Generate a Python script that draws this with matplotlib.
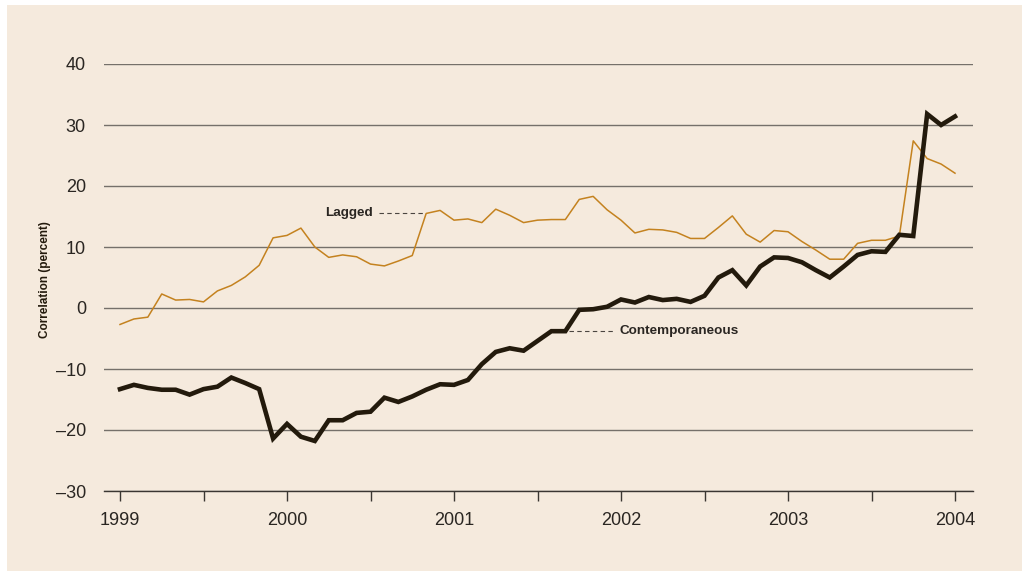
import numpy as np
import matplotlib

matplotlib.use("Agg")
import matplotlib.pyplot as plt
from matplotlib.patches import Rectangle

# monthly observations, Jan 1999 .. Jan 2004
contemporaneous = [
    -13.3, -12.6, -13.1, -13.4, -13.4, -14.2, -13.3, -12.9, -11.4, -12.3, -13.3, -21.4,
    -19.0, -21.1, -21.8, -18.4, -18.4, -17.2, -17.0, -14.7, -15.4, -14.5, -13.4, -12.5,
    -12.6, -11.8, -9.2, -7.2, -6.6, -7.0, -5.4, -3.8, -3.8, -0.3, -0.2, 0.2,
    1.4, 0.9, 1.8, 1.3, 1.5, 1.0, 2.0, 5.0, 6.2, 3.7, 6.8, 8.3,
    8.2, 7.5, 6.2, 5.0, 6.8, 8.7, 9.3, 9.2, 12.0, 11.8, 31.8, 30.0,
    31.4,
]
lagged = [
    -2.7, -1.8, -1.5, 2.3, 1.3, 1.4, 1.0, 2.8, 3.7, 5.1, 7.0, 11.5,
    11.9, 13.1, 10.0, 8.3, 8.7, 8.4, 7.2, 6.9, 7.7, 8.6, 15.5, 16.0,
    14.4, 14.6, 14.0, 16.2, 15.2, 14.0, 14.4, 14.5, 14.5, 17.8, 18.3, 16.1,
    14.4, 12.3, 12.9, 12.8, 12.4, 11.4, 11.4, 13.2, 15.1, 12.1, 10.8, 12.7,
    12.5, 10.9, 9.5, 8.0, 8.0, 10.6, 11.1, 11.1, 11.8, 27.4, 24.5, 23.6,
    22.1,
]
years = [1999, 2000, 2001, 2002, 2003, 2004]
y_ticks = [40, 30, 20, 10, 0, -10, -20, -30]

dates = 1999 + np.arange(len(contemporaneous)) / 12

BG = "#f5eadd"
INK = "#231a0c"
ORANGE = "#c4821f"
GRID = "#75706a"

plt.rcParams["font.family"] = ["Liberation Sans", "DejaVu Sans"]

fig = plt.figure(figsize=(10.29, 5.76), dpi=100, facecolor="white")
fig.patches.append(Rectangle((7 / 1029, 5 / 576), 1015 / 1029, 566 / 576,
                             transform=fig.transFigure, facecolor=BG,
                             edgecolor="none", zorder=-1))

ax = fig.add_axes([104 / 1029, 85 / 576, 869 / 1029, 427 / 576])
ax.set_facecolor("none")

ax.plot(dates, lagged, color=ORANGE, linewidth=1.1, zorder=3)
ax.plot(dates, contemporaneous, color=INK, linewidth=3.3, zorder=4,
        solid_joinstyle="miter")

ax.set_xlim(1999 - 16 / 167, 1999 + 853 / 167)
ax.set_ylim(-30, 40)
ax.set_xticks(years)
ax.set_xticks(np.arange(1999.5, 2004, 1.0), minor=True)
ax.set_yticks(y_ticks)
# en dash for negatives, as in the source
ax.set_yticklabels([f"\u2013{-v}" if v < 0 else str(v) for v in y_ticks])

for side in ("top", "right", "left"):
    ax.spines[side].set_visible(False)
ax.spines["bottom"].set_color("#3a3632")
ax.spines["bottom"].set_linewidth(1.0)

ax.grid(True, axis="y", color=GRID, linewidth=1.0)
ax.set_axisbelow(True)
ax.tick_params(axis="y", length=0, pad=13, labelsize=13, labelcolor="#2a2622")
ax.tick_params(axis="x", which="both", length=7, width=1.0, color="#3a3632",
               direction="out", pad=8, labelsize=13, labelcolor="#2a2622")

fig.text(45 / 1029, 0.515, "Correlation (percent)", rotation=90, ha="center",
         va="center", fontsize=8.5, fontweight="bold", color=INK)

# leader labels
i_lag, i_con = 22, 32
ax.text(2000.515, lagged[i_lag] + 0.1, "Lagged", ha="right", va="center",
        fontsize=9.7, fontweight="bold", color="#2a2622")
ax.plot([2000.55, dates[i_lag] - 0.02], [lagged[i_lag]] * 2, color="#4a4540",
        linewidth=0.8, linestyle=(0, (4, 3)), zorder=2)
ax.text(1999 + (619 - 120) / 167, contemporaneous[i_con] + 0.1, "Contemporaneous",
        ha="left", va="center", fontsize=9.7, fontweight="bold", color="#2a2622")
ax.plot([dates[i_con] + 0.02, 1999 + (613 - 120) / 167], [contemporaneous[i_con]] * 2,
        color="#4a4540", linewidth=0.8, linestyle=(0, (4, 3)), zorder=2)

fig.savefig("out.png", dpi=100, facecolor="white")
